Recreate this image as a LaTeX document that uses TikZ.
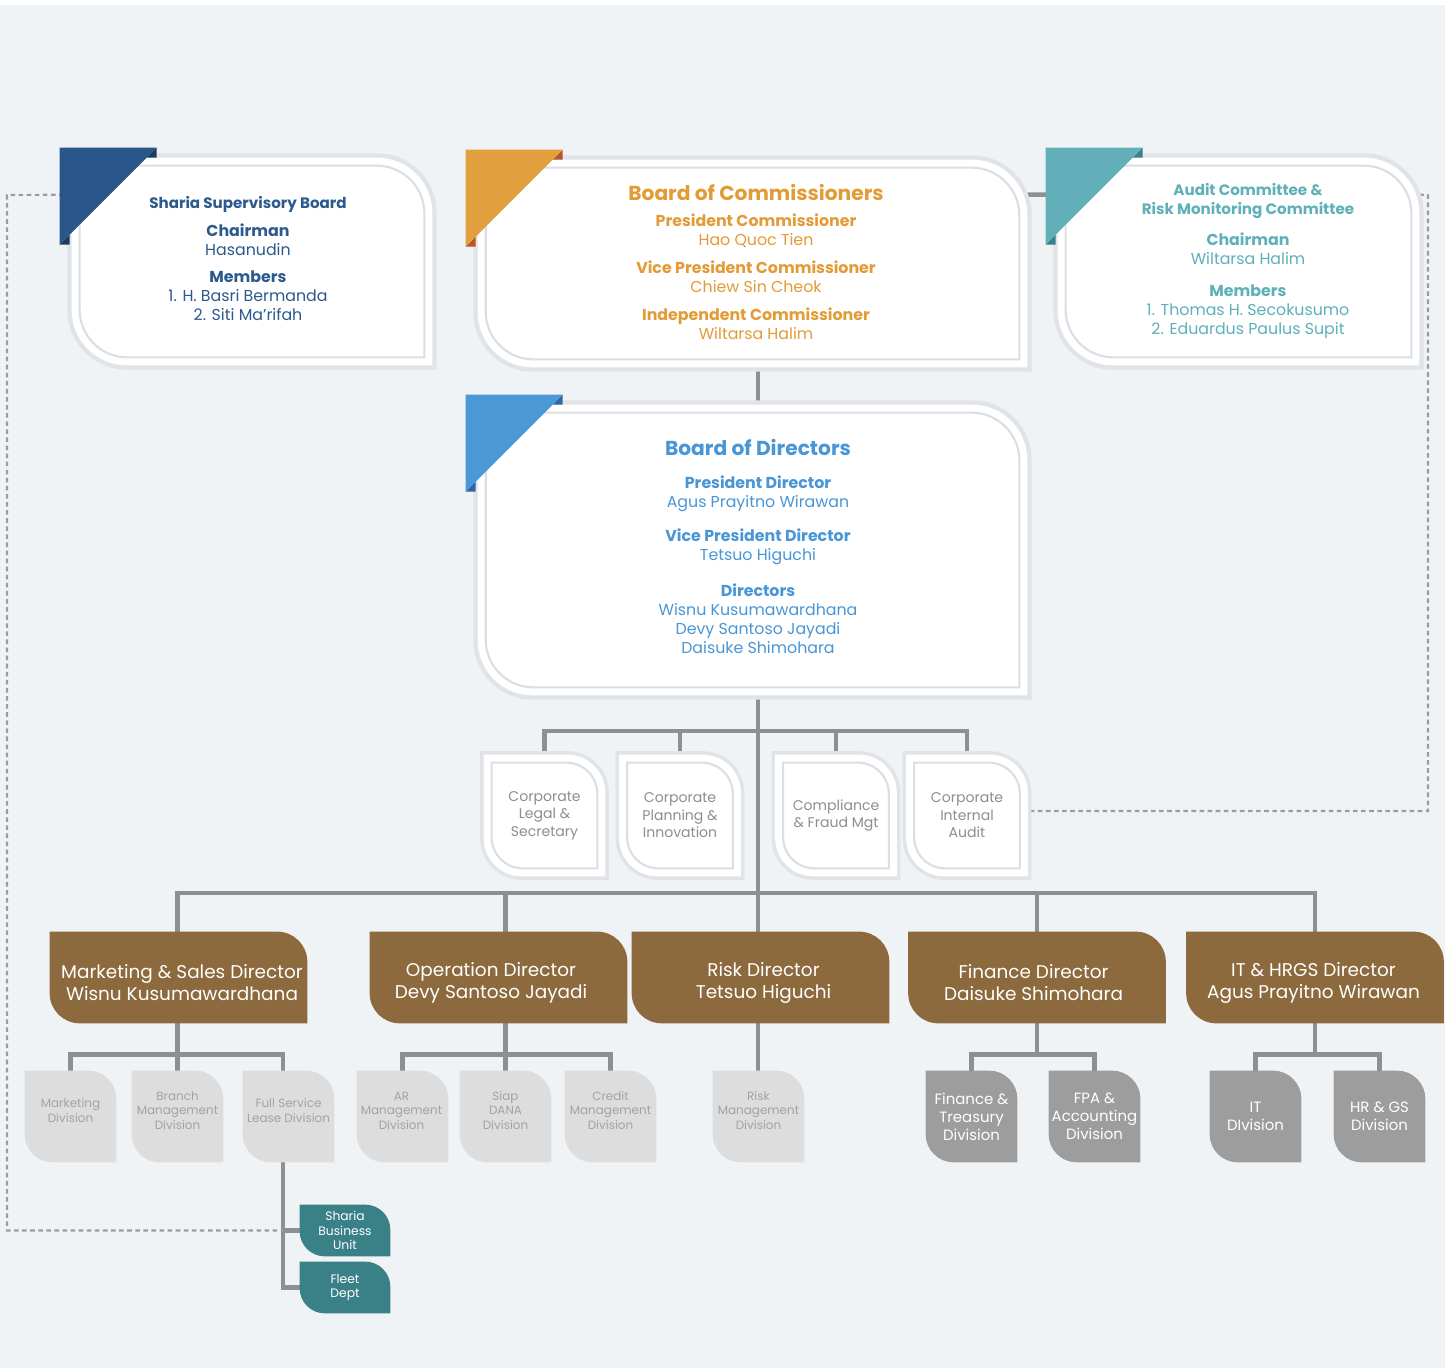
\documentclass[tikz,border=0pt]{standalone}
\usepackage{fontspec}
\setmainfont{Poppins}
\usetikzlibrary{calc}

\definecolor{bgcol}{HTML}{EFF3F6}
\definecolor{linegray}{HTML}{8F8F8F}
\definecolor{dashgray}{HTML}{9C9C9C}
\definecolor{rimcol}{HTML}{DCDEE0}
\definecolor{shadowcol}{HTML}{E0E4E8}
\definecolor{shtext}{HTML}{2C5A8E}
\definecolor{shblue}{HTML}{2A568A}
\definecolor{shdark}{HTML}{1C3B60}
\definecolor{ortext}{HTML}{E39B36}
\definecolor{orange}{HTML}{E29F3D}
\definecolor{ordark}{HTML}{B8552B}
\definecolor{autext}{HTML}{5EB0B9}
\definecolor{aucol}{HTML}{63AFB9}
\definecolor{audark}{HTML}{3B7F87}
\definecolor{bdtext}{HTML}{4896D6}
\definecolor{bdblue}{HTML}{4A98D5}
\definecolor{bddark}{HTML}{2C68A2}
\definecolor{corptext}{HTML}{8E8E8E}
\definecolor{brownbox}{HTML}{8C6A3D}
\definecolor{divfill}{HTML}{DDDDDD}
\definecolor{divtext}{HTML}{A3A3A3}
\definecolor{dkfill}{HTML}{9D9D9D}
\definecolor{tealfill}{HTML}{3A8087}

\pgfdeclarelayer{bg}
\pgfdeclarelayer{lines}
\pgfdeclarelayer{boxes}
\pgfsetlayers{bg,lines,boxes,main}

% leaf outline of a node: #1 node, #2 corner radius, #3 inset
\newcommand{\leafpath}[3]{([shift={(#3,-#3)}]#1.north west)
  -- ([shift={({-#3-#2},-#3)}]#1.north east)
  .. controls ([shift={({-#3-0.45*#2},-#3)}]#1.north east) and ([shift={(-#3,{-#3-0.45*#2})}]#1.north east)
  .. ([shift={(-#3,{-#3-#2})}]#1.north east)
  -- ([shift={(-#3,#3)}]#1.south east)
  -- ([shift={({#3+#2},#3)}]#1.south west)
  .. controls ([shift={({#3+0.45*#2},#3)}]#1.south west) and ([shift={(#3,{#3+0.45*#2})}]#1.south west)
  .. ([shift={(#3,{#3+#2})}]#1.south west)
  -- cycle}

% corner flag of a board box: #1 node, #2 colour, #3 dark colour
\newcommand{\flag}[3]{%
  \fill[#3] ([shift={(1.70cm,0.2cm)}]#1.north west) -- ++(0cm,-0.2cm) -- ++(-0.2cm,0cm) -- cycle;
  \fill[#3] ([shift={(-0.24cm,-1.74cm)}]#1.north west) -- ++(0.2cm,0cm) -- ++(0cm,0.2cm) -- cycle;
  \fill[#2] ([shift={(-0.24cm,0.2cm)}]#1.north west) -- ++(1.94cm,0cm) -- ++(-1.94cm,-1.94cm) -- cycle;}

\tikzset{
  conn/.style={draw=linegray, line width=2.6pt},
  dsh/.style={draw=dashgray, line width=1.2pt, dash pattern=on 2.6pt off 2pt},
  rim/.style={draw=rimcol, line width=1.2pt},
  bx/.style 2 args={minimum width=#1, minimum height=#2, inner sep=0pt, align=center},
  ttl/.style={font=\bfseries\fontsize{11.5}{14}\selectfont, anchor=base, inner sep=0pt},
  grp/.style={font=\fontsize{9}{10.9}\selectfont, align=center, anchor=base, inner sep=0pt},
  grpb/.style={grp, font=\bfseries\fontsize{8.6}{11.3}\selectfont},
  corp/.style={bx={2.42cm}{2.42cm}, text=corptext, font=\fontsize{8}{10}\selectfont},
  dirbox/.style={bx={5.14cm}{1.82cm}},
  dirtxt/.style={text=white, font=\fontsize{10.5}{12.5}\selectfont, align=center, inner sep=0pt},
  divbox/.style={bx={1.82cm}{1.82cm}},
  divtxt/.style={text=divtext, font=\fontsize{6.8}{8.3}\selectfont, align=center, inner sep=0pt},
  dkbox/.style={bx={1.82cm}{1.82cm}, text=white, font=\fontsize{8.5}{10.2}\selectfont},
  tealbox/.style={bx={1.8cm}{1.02cm}, text=white, font=\fontsize{7}{8.1}\selectfont},
}

\begin{document}
\begin{tikzpicture}[x=0.02cm, y=-0.02cm]
\useasboundingbox (0,0) rectangle (1445,1368);
\begin{pgfonlayer}{bg}
  \fill[white] (0,0) rectangle (1445,1368);
  \fill[bgcol] (0,5) rectangle (1445,1368);
\end{pgfonlayer}

% boards
\node[bx={7.2cm}{4.14cm}] (ssb) at (252,261.5) {};
\node[bx={10.98cm}{4.14cm}] (bc) at (752.5,263.5) {};
\node[bx={7.22cm}{4.14cm}] (acm) at (1238.5,261.5) {};
\node[bx={10.98cm}{5.8cm}] (bd) at (752.5,550) {};

\node[grpb, text=shtext] (ssbt) at (248,209) {Sharia Supervisory Board};
\node[grp, text=shtext] (ssbc) at (248,255.7) {\textbf{Chairman}\\Hasanudin};
\node[grp, text=shtext] (ssbm) at (248,321) {\textbf{Members}\\1. H. Basri Bermanda\\2. Siti Ma’rifah};

\node[ttl, text=ortext] (bct) at (756,200.7) {Board of Commissioners};
\node[grp, text=ortext] (bcp) at (756,246) {\textbf{President Commissioner}\\Hao Quoc Tien};
\node[grp, text=ortext] (bcv) at (756,293) {\textbf{Vice President Commissioner}\\Chiew Sin Cheok};
\node[grp, text=ortext] (bci) at (756,340) {\textbf{Independent Commissioner}\\Wiltarsa Halim};

\node[grpb, text=autext] (acmt) at (1248,215) {Audit Committee \&\\Risk Monitoring Committee};
\node[grp, text=autext] (acmc) at (1248,265) {\textbf{Chairman}\\Wiltarsa Halim};
\node[grp, text=autext] (acmm) at (1248,335) {\textbf{Members}\\1. Thomas H. Secokusumo\\2. Eduardus Paulus Supit};

\node[ttl, text=bdtext] (bdt) at (758,456) {Board of Directors};
\node[grp, text=bdtext] (bdp) at (758,507.7) {\textbf{President Director}\\Agus Prayitno Wirawan};
\node[grp, text=bdtext] (bdv) at (758,561) {\textbf{Vice President Director}\\Tetsuo Higuchi};
\node[grp, text=bdtext] (bdd) at (758,654) {\textbf{Directors}\\Wisnu Kusumawardhana\\Devy Santoso Jayadi\\Daisuke Shimohara};

% corporate units
\node[corp] (legal) at (544.5,815.5) {Corporate\\Legal \&\\Secretary};
\node[corp] (plan) at (680,815.5) {Corporate\\Planning \&\\Innovation};
\node[corp] (comp) at (836,815.5) {Compliance\\\& Fraud Mgt};
\node[corp] (cia) at (967,815.5) {Corporate\\Internal\\Audit};

% directors
\node[dirbox] (mkt) at (178.5,977.5) {};
\node[dirbox] (opr) at (498.5,977.5) {};
\node[dirbox] (rsk) at (760.5,977.5) {};
\node[dirbox] (fin) at (1037,977.5) {};
\node[dirbox] (itd) at (1315,977.5) {};
\node[dirtxt] (mktt) at (182,982.5) {Marketing \& Sales Director\\Wisnu Kusumawardhana};
\node[dirtxt] (oprt) at (491,982.5) {Operation Director\\Devy Santoso Jayadi};
\node[dirtxt] (rskt) at (763.5,982.5) {Risk Director\\Tetsuo Higuchi};
\node[dirtxt] (fint) at (1033.5,982.5) {Finance Director\\Daisuke Shimohara};
\node[dirtxt] (itdt) at (1313.5,982.5) {IT \& HRGS Director\\Agus Prayitno Wirawan};

% divisions
\node[divbox] (mdv) at (70.5,1116.5) {};
\node[divbox] (brm) at (177.5,1116.5) {};
\node[divbox] (fsl) at (288.5,1116.5) {};
\node[divbox] (ard) at (402.5,1116.5) {};
\node[divbox] (siap) at (505.5,1116.5) {};
\node[divbox] (cmd) at (610.5,1116.5) {};
\node[divbox] (rmd) at (758.5,1116.5) {};
\node[divtxt] (mdvt) at (70.5,1110.5) {Marketing\\Division};
\node[divtxt] (brmt) at (177.5,1110.5) {Branch\\Management\\Division};
\node[divtxt] (fslt) at (288.5,1110.5) {Full Service\\Lease Division};
\node[divtxt] (ardt) at (401.5,1110.5) {AR\\Management\\Division};
\node[divtxt] (siapt) at (505.5,1110.5) {Siap\\DANA\\Division};
\node[divtxt] (cmdt) at (610.5,1110.5) {Credit\\Management\\Division};
\node[divtxt] (rmdt) at (758.5,1110.5) {Risk\\Management\\Division};
\node[dkbox] (ftd) at (971.5,1116.5) {Finance \&\\Treasury\\Division};
\node[dkbox] (fpa) at (1094.5,1116.5) {FPA \&\\Accounting\\Division};
\node[dkbox] (itv) at (1255.5,1116.5) {IT\\DIvision};
\node[dkbox] (hrg) at (1379.5,1116.5) {HR \& GS\\Division};

\node[tealbox] (sbu) at (345,1230.5) {Sharia\\Business\\Unit};
\node[tealbox] (flt) at (345,1287.5) {Fleet\\Dept};

\begin{pgfonlayer}{boxes}
  \foreach \n in {ssb,bc,acm,bd}{
    \draw[shadowcol, line width=5pt] \leafpath{\n}{1.1cm}{0pt};
    \fill[white] \leafpath{\n}{1.1cm}{0pt};
    \draw[rim] \leafpath{\n}{0.95cm}{0.16cm};
  }
  \flag{ssb}{shblue}{shdark}
  \flag{bc}{orange}{ordark}
  \flag{acm}{aucol}{audark}
  \flag{bd}{bdblue}{bddark}
  \foreach \n in {legal,plan,comp,cia}{
    \draw[shadowcol, line width=4pt] \leafpath{\n}{0.76cm}{0pt};
    \fill[white] \leafpath{\n}{0.76cm}{0pt};
    \draw[rim] \leafpath{\n}{0.62cm}{0.16cm};
  }
  \foreach \n in {mkt,opr,rsk,fin,itd}
    \fill[brownbox] \leafpath{\n}{0.6cm}{0pt};
  \foreach \n in {mdv,brm,fsl,ard,siap,cmd,rmd}
    \fill[divfill] \leafpath{\n}{0.56cm}{0pt};
  \foreach \n in {ftd,fpa,itv,hrg}
    \fill[dkfill] \leafpath{\n}{0.56cm}{0pt};
  \foreach \n in {sbu,flt}
    \fill[tealfill] \leafpath{\n}{0.5cm}{0pt};
\end{pgfonlayer}

\begin{pgfonlayer}{lines}
  \coordinate (spine) at (758,0);
  \coordinate (hubA) at (758,731);
  \coordinate (hubB) at (758,893);
  \coordinate (dl) at (7,195);
  \coordinate (dr) at (1428,195);
  \draw[conn] (bc.south -| spine) -- (rmd.north -| spine);
  \draw[conn] ([yshift=-0.7cm]bc.north east) -- ([yshift=-0.74cm]acm.north west);
  \foreach \n in {legal,plan,comp,cia}
    \draw[conn] (\n.north) |- (hubA);
  \draw[conn] (brm.north) |- (hubB);
  \draw[conn] (siap.north) |- (hubB);
  \draw[conn] (fin.north) |- (hubB);
  \draw[conn] (itd.north) |- (hubB);
  \draw[conn] (fin.south) -- ++(0cm,-0.64cm);
  \draw[conn] (itd.south) -- ++(0cm,-0.64cm);
  \draw[conn] (mdv.north) -- ++(0cm,0.32cm) -| ([xshift=-0.11cm]fsl.north);
  \draw[conn] (ard.north) -- ++(0cm,0.32cm) -| (cmd.north);
  \draw[conn] (ftd.north) -- ++(0cm,0.32cm) -| (fpa.north);
  \draw[conn] (itv.north) -- ++(0cm,0.32cm) -| (hrg.north);
  \draw[conn] ([xshift=-0.11cm]fsl.south) |- (sbu.west);
  \draw[conn] ([xshift=-0.11cm]fsl.south) |- (flt.west);
  \draw[dsh] ([yshift=-0.74cm]ssb.north west) -- (dl) |- ([xshift=-0.11cm]fsl.south |- sbu.west);
  \draw[dsh] ([yshift=-0.74cm]acm.north east) -- (dr) |- ([yshift=0.09cm]cia.east);
\end{pgfonlayer}
\end{tikzpicture}
\end{document}
